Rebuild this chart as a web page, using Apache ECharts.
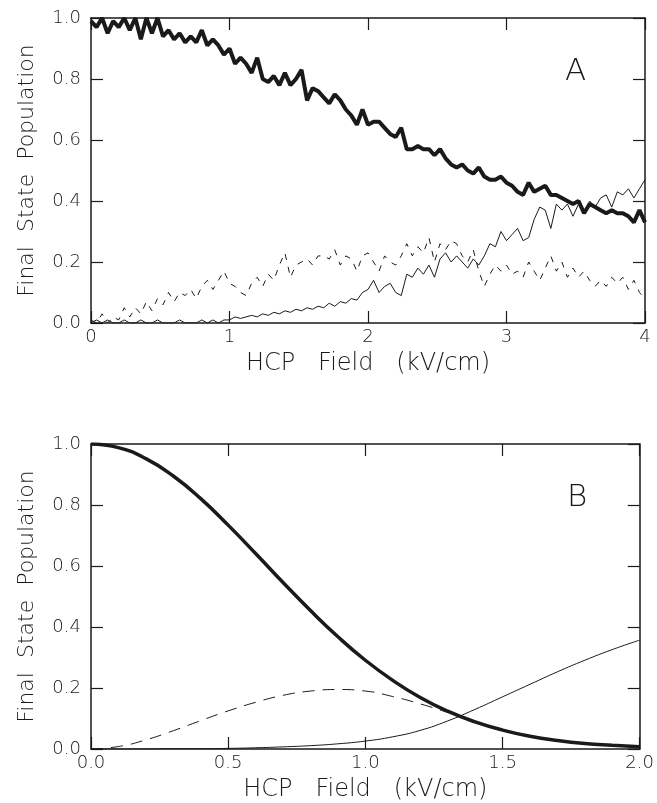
<!DOCTYPE html>
<html>
<head>
<meta charset="utf-8">
<script src="https://cdn.jsdelivr.net/npm/echarts@6/dist/echarts.min.js"></script>
<style>
    html, body { margin: 0; padding: 0; background: #fff; }
    #chart { width: 657px; height: 803px; }
</style>
</head>
<body>
<div id="chart"></div>
<script>
// panel A: measured populations vs HCP field
const fieldA = [
    0, 0.04, 0.08, 0.12, 0.16, 0.2, 0.24, 0.28, 0.32, 0.36,
    0.4, 0.44, 0.48, 0.52, 0.56, 0.6, 0.64, 0.68, 0.72, 0.76,
    0.8, 0.84, 0.88, 0.92, 0.96, 1, 1.04, 1.08, 1.12, 1.16,
    1.2, 1.24, 1.28, 1.32, 1.36, 1.4, 1.44, 1.48, 1.52, 1.56,
    1.6, 1.64, 1.68, 1.72, 1.76, 1.8, 1.84, 1.88, 1.92, 1.96,
    2, 2.04, 2.08, 2.12, 2.16, 2.2, 2.24, 2.28, 2.32, 2.36,
    2.4, 2.44, 2.48, 2.52, 2.56, 2.6, 2.64, 2.68, 2.72, 2.76,
    2.8, 2.84, 2.88, 2.92, 2.96, 3, 3.04, 3.08, 3.12, 3.16,
    3.2, 3.24, 3.28, 3.32, 3.36, 3.4, 3.44, 3.48, 3.52, 3.56,
    3.6, 3.64, 3.68, 3.72, 3.76, 3.8, 3.84, 3.88, 3.92, 3.96,
    4
]
const thickA = [
    0.99, 0.97, 1.00, 0.95, 0.99, 0.97, 1.00, 0.96, 1.00, 0.93,
    1.00, 0.95, 1.00, 0.94, 0.96, 0.93, 0.95, 0.92, 0.94, 0.92,
    0.96, 0.91, 0.93, 0.91, 0.88, 0.90, 0.85, 0.87, 0.85, 0.82,
    0.87, 0.80, 0.79, 0.81, 0.78, 0.82, 0.78, 0.80, 0.83, 0.73,
    0.77, 0.76, 0.74, 0.72, 0.75, 0.73, 0.70, 0.68, 0.65, 0.70,
    0.65, 0.66, 0.66, 0.64, 0.62, 0.61, 0.64, 0.57, 0.57, 0.58,
    0.57, 0.57, 0.55, 0.57, 0.54, 0.52, 0.51, 0.52, 0.50, 0.49,
    0.51, 0.48, 0.47, 0.47, 0.48, 0.46, 0.45, 0.43, 0.42, 0.46,
    0.43, 0.44, 0.45, 0.42, 0.42, 0.41, 0.40, 0.39, 0.40, 0.36,
    0.39, 0.38, 0.37, 0.36, 0.37, 0.36, 0.36, 0.35, 0.33, 0.37,
    0.33
]
const thinA = [
    0.00, 0.01, 0.00, 0.01, 0.00, 0.00, 0.01, 0.00, 0.00, 0.01,
    0.00, 0.00, 0.01, 0.00, 0.00, 0.00, 0.01, 0.00, 0.00, 0.00,
    0.01, 0.00, 0.01, 0.00, 0.01, 0.01, 0.02, 0.015, 0.02, 0.025,
    0.02, 0.03, 0.025, 0.035, 0.03, 0.04, 0.035, 0.045, 0.04, 0.05,
    0.045, 0.055, 0.05, 0.065, 0.055, 0.07, 0.065, 0.08, 0.075, 0.10,
    0.11, 0.14, 0.10, 0.12, 0.13, 0.10, 0.09, 0.16, 0.15, 0.18,
    0.16, 0.19, 0.15, 0.21, 0.23, 0.20, 0.22, 0.20, 0.18, 0.21,
    0.19, 0.22, 0.26, 0.25, 0.30, 0.27, 0.29, 0.31, 0.27, 0.28,
    0.34, 0.38, 0.37, 0.31, 0.39, 0.37, 0.39, 0.35, 0.39, 0.36,
    0.40, 0.38, 0.41, 0.42, 0.38, 0.43, 0.42, 0.44, 0.41, 0.44,
    0.47
]
const dashedA = [
    0.01, 0.00, 0.03, 0.00, 0.02, 0.01, 0.05, 0.02, 0.05, 0.03,
    0.07, 0.04, 0.08, 0.06, 0.10, 0.07, 0.10, 0.09, 0.11, 0.08,
    0.12, 0.14, 0.11, 0.14, 0.17, 0.13, 0.12, 0.10, 0.09, 0.13,
    0.15, 0.12, 0.16, 0.14, 0.19, 0.23, 0.15, 0.19, 0.20, 0.21,
    0.19, 0.22, 0.22, 0.21, 0.24, 0.19, 0.22, 0.21, 0.17, 0.22,
    0.23, 0.20, 0.17, 0.22, 0.20, 0.19, 0.22, 0.26, 0.22, 0.25,
    0.23, 0.28, 0.20, 0.26, 0.24, 0.27, 0.26, 0.22, 0.20, 0.24,
    0.17, 0.12, 0.16, 0.19, 0.17, 0.19, 0.16, 0.17, 0.15, 0.20,
    0.17, 0.14, 0.18, 0.22, 0.17, 0.20, 0.15, 0.18, 0.15, 0.17,
    0.14, 0.12, 0.14, 0.12, 0.15, 0.13, 0.15, 0.11, 0.14, 0.10,
    0.08
]

// panel B: calculated populations
const fieldB = [0, 0.1, 0.2, 0.3, 0.4, 0.5, 0.6, 0.7, 0.8, 0.9, 1.0,
    1.1, 1.2, 1.3, 1.4, 1.5, 1.6, 1.7, 1.8, 1.9, 2.0]
const thickB = [1.000, 0.988, 0.952, 0.895, 0.821, 0.734, 0.641, 0.546, 0.454, 0.368, 0.291,
    0.225, 0.169, 0.124, 0.089, 0.062, 0.042, 0.028, 0.018, 0.012, 0.007]
const thinB = [0, 0, 0, 0.001, 0.001, 0.002, 0.004, 0.007, 0.011, 0.017, 0.026,
    0.040, 0.061, 0.092, 0.130, 0.171, 0.212, 0.253, 0.291, 0.326, 0.357]
const dashedB = [0, 0.008, 0.030, 0.060, 0.093, 0.125, 0.153, 0.176, 0.190, 0.195, 0.190,
    0.172, 0.148, 0.120, 0.091, 0.064, 0.043, 0.029, 0.019, 0.012, 0.008]

const ticksA = ["0", "1", "2", "3", "4"]
const ticksB = ["0.0", "0.5", "1.0", "1.5", "2.0"]
const ticksY = ["0.0", "0.2", "0.4", "0.6", "0.8", "1.0"]

const font = "'DejaVu Sans', sans-serif"
const ink = "#1a1a1a"

function pairs(xs, ys) {
    return xs.map((x, i) => [x, ys[i]])
}

function xAxisFor(grid, max, step, labels, onTop) {
    return {
        gridIndex: grid,
        type: "value",
        min: 0,
        max: max,
        interval: step,
        position: onTop ? "top" : "bottom",
        axisLine: { onZero: false, lineStyle: { color: ink, width: 1.5 } },
        axisTick: { inside: true, length: 12, lineStyle: { color: ink, width: 1.2 } },
        axisLabel: {
            show: !onTop,
            margin: 5,
            color: ink,
            fontFamily: font,
            fontWeight: 200,
            fontSize: 18,
            formatter: (v) => labels[Math.round(v / step)],
        },
        splitLine: { show: false },
        name: onTop ? "" : "HCP   Field   (kV/cm)",
        nameLocation: "middle",
        nameGap: 29,
        nameTextStyle: { color: ink, fontFamily: font, fontWeight: 200, fontSize: 24 },
    }
}

function yAxisFor(grid, onRight) {
    return {
        gridIndex: grid,
        type: "value",
        min: 0,
        max: 1,
        interval: 0.2,
        position: onRight ? "right" : "left",
        axisLine: { onZero: false, lineStyle: { color: ink, width: 1.5 } },
        axisTick: { inside: true, length: 12, lineStyle: { color: ink, width: 1.2 } },
        axisLabel: {
            show: !onRight,
            margin: 10,
            color: ink,
            fontFamily: font,
            fontWeight: 200,
            fontSize: 18,
            formatter: (v) => ticksY[Math.round(v / 0.2)],
        },
        splitLine: { show: false },
        name: onRight ? "" : "Final  State  Population",
        nameLocation: "middle",
        nameGap: 53,
        nameTextStyle: { color: ink, fontFamily: font, fontWeight: 200, fontSize: 22 },
    }
}

function lineSeries(x, y, data, width, dash, smooth) {
    return {
        type: "line",
        xAxisIndex: x,
        yAxisIndex: y,
        data: data,
        showSymbol: false,
        smooth: smooth,
        lineStyle: { color: ink, width: width, type: dash ? dash : "solid" },
    }
}

var myChart = echarts.init(document.getElementById("chart"))
myChart.setOption({
    animation: false,
    backgroundColor: "#fff",
    grid: [
        { left: 91, top: 18, width: 554, height: 305 },
        { left: 91, top: 444, width: 554, height: 306 },
    ],
    xAxis: [
        xAxisFor(0, 4, 1, ticksA, false),
        xAxisFor(0, 4, 1, ticksA, true),
        xAxisFor(1, 2, 0.5, ticksB, false),
        xAxisFor(1, 2, 0.5, ticksB, true),
    ],
    yAxis: [yAxisFor(0, false), yAxisFor(0, true), yAxisFor(1, false), yAxisFor(1, true)],
    graphic: [
        { type: "text", left: 565, top: 56, style: { text: "A", fontFamily: font, fontWeight: 200, fontSize: 31, fill: ink } },
        { type: "text", left: 567, top: 482, style: { text: "B", fontFamily: font, fontWeight: 200, fontSize: 31, fill: ink } },
    ],
    series: [
        lineSeries(0, 0, pairs(fieldA, dashedA), 1, [6, 7], false),
        lineSeries(0, 0, pairs(fieldA, thinA), 1, null, false),
        lineSeries(0, 0, pairs(fieldA, thickA), 4, null, false),
        lineSeries(2, 2, pairs(fieldB, dashedB), 1, [12, 8], true),
        lineSeries(2, 2, pairs(fieldB, thinB), 1, null, true),
        lineSeries(2, 2, pairs(fieldB, thickB), 3.5, null, true),
    ],
})
</script>
</body>
</html>
